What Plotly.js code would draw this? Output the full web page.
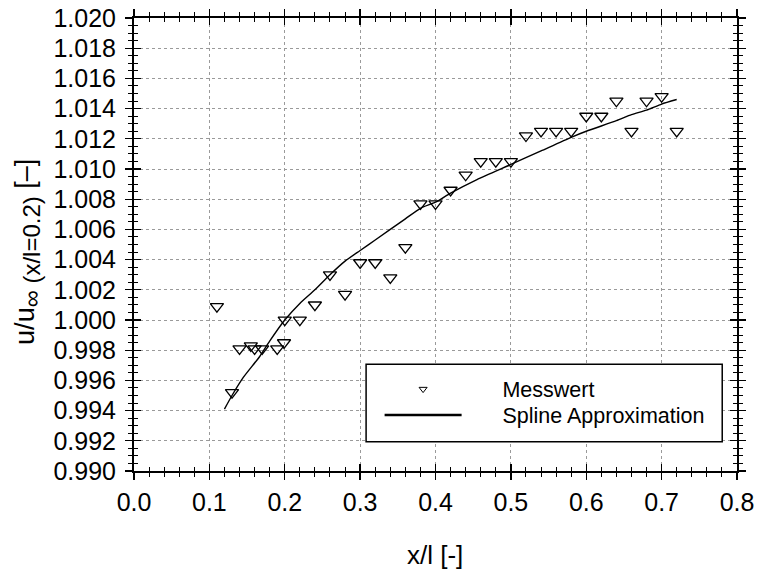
<!DOCTYPE html>
<html>
<head>
<meta charset="utf-8">
<script src="https://cdn.plot.ly/plotly-3.0.1.min.js"></script>
<style>html,body{margin:0;padding:0;background:#fff;}</style>
</head>
<body>
<div id="chart" style="width:757px;height:570px;"></div>
<script>
// Measured velocity ratio along the plate
const messX = [0.11, 0.13, 0.14, 0.155, 0.16, 0.17, 0.19, 0.199, 0.20, 0.22, 0.24, 0.26, 0.28, 0.30, 0.32, 0.34, 0.36, 0.38, 0.40, 0.42, 0.44, 0.46, 0.48, 0.50, 0.52, 0.54, 0.56, 0.58, 0.60, 0.62, 0.64, 0.66, 0.68, 0.70, 0.72];
const messY = [1.0009, 0.9952, 0.9981, 0.9983, 0.9981, 0.9981, 0.9981, 0.9985, 1.0000, 1.0000, 1.0010, 1.0030, 1.0017, 1.0038, 1.0038, 1.0028, 1.0048, 1.0077, 1.0077, 1.0086, 1.0096, 1.0105, 1.0105, 1.0105, 1.0122, 1.0125, 1.0125, 1.0125, 1.0135, 1.0135, 1.0145, 1.0125, 1.0145, 1.0148, 1.0125];

// Spline approximation of the measurements
const splineX = [0.12, 0.13, 0.145, 0.167, 0.18, 0.20, 0.22, 0.24, 0.26, 0.28, 0.30, 0.32, 0.36, 0.38, 0.40, 0.42, 0.455, 0.50, 0.54, 0.58, 0.60, 0.64, 0.66, 0.68, 0.70, 0.72];
const splineY = [0.9941, 0.9950, 0.9962, 0.9976, 0.9986, 1.0000, 1.0011, 1.0020, 1.0030, 1.0039, 1.0046, 1.0053, 1.0067, 1.0074, 1.0078, 1.0084, 1.0093, 1.0103, 1.0112, 1.0121, 1.0125, 1.0132, 1.0136, 1.0139, 1.0143, 1.0146];

const legendNames = ['Messwert', 'Spline Approximation'];
const xTickVals = [0.0, 0.1, 0.2, 0.3, 0.4, 0.5, 0.6, 0.7, 0.8];
const yTickVals = [0.990, 0.992, 0.994, 0.996, 0.998, 1.000, 1.002, 1.004, 1.006, 1.008, 1.010, 1.012, 1.014, 1.016, 1.018, 1.020];
const xRange = [0, 0.8];
const yRange = [0.990, 1.020];

const FONT = 'Liberation Sans, Arial, Helvetica, sans-serif';
const PAD = '\u00a0\u00a0\u00a0\u00a0\u00a0\u00a0';

const traces = [
  {
    x: messX, y: messY, type: 'scatter', mode: 'markers',
    marker: {symbol: 'triangle-down-open', size: 11.5, color: '#000', line: {width: 1.3, color: '#000'}},
    showlegend: false, hoverinfo: 'x+y'
  },
  {
    x: splineX, y: splineY, type: 'scatter', mode: 'lines',
    line: {color: '#000', width: 1.4, shape: 'spline', smoothing: 0.6},
    showlegend: false, hoverinfo: 'x+y'
  },
  // legend entries
  {
    x: [null], y: [null], type: 'scatter', mode: 'markers', name: PAD + legendNames[0],
    legend: 'legend',
    marker: {symbol: 'triangle-down-open', size: 7, color: '#000', line: {width: 1, color: '#000'}}
  },
  {
    x: [null], y: [null], type: 'scatter', mode: 'lines', name: PAD + legendNames[1],
    legend: 'legend2',
    line: {color: '#000', width: 2.5}
  },
  // carrier for the inner tick axes
  {x: [], y: [], xaxis: 'x2', yaxis: 'y2', type: 'scatter', showlegend: false, hoverinfo: 'skip'}
];

const tickCommon = {
  ticks: 'outside', ticklen: 7, tickwidth: 1.3, tickcolor: '#000',
  showline: true, linewidth: 2, linecolor: '#000', mirror: 'ticks',
  zeroline: false, tickfont: {family: FONT, size: 25, color: '#000'},
  showgrid: true, gridcolor: '#9a9a9a', gridwidth: 1, griddash: '3px,3px'
};

const legendCommon = {
  xanchor: 'left', yanchor: 'top',
  bgcolor: 'rgba(0,0,0,0)', borderwidth: 0,
  font: {family: FONT, size: 21.5, color: '#000'},
  itemwidth: 77
};

const layout = {
  width: 757, height: 570,
  margin: {l: 133.5, r: 19.5, t: 17.5, b: 99},
  paper_bgcolor: '#fff', plot_bgcolor: '#fff',
  font: {family: FONT, color: '#000'},
  xaxis: Object.assign({}, tickCommon, {
    range: xRange, tickvals: xTickVals, tickformat: '.1f', ticklabelstandoff: 1,
    minor: {dtick: 0.02, ticks: 'outside', ticklen: 4, tickwidth: 1, tickcolor: '#000', showgrid: false}
  }),
  yaxis: Object.assign({}, tickCommon, {
    range: yRange, tickvals: yTickVals, tickformat: '.3f', ticklabelstandoff: 4,
    minor: {dtick: 0.0005, ticks: 'outside', ticklen: 4, tickwidth: 1, tickcolor: '#000', showgrid: false}
  }),
  xaxis2: {
    overlaying: 'x', anchor: 'y2', range: xRange, tickvals: xTickVals,
    ticks: 'inside', ticklen: 7, tickwidth: 1.3, tickcolor: '#000',
    showline: true, linewidth: 2, linecolor: '#000', mirror: 'ticks',
    showticklabels: false, showgrid: false, zeroline: false,
    minor: {dtick: 0.02, ticks: 'inside', ticklen: 4, tickwidth: 1, tickcolor: '#000', showgrid: false}
  },
  yaxis2: {
    overlaying: 'y', anchor: 'x2', range: yRange, tickvals: yTickVals,
    ticks: 'inside', ticklen: 7, tickwidth: 1.3, tickcolor: '#000',
    showline: true, linewidth: 2, linecolor: '#000', mirror: 'ticks',
    showticklabels: false, showgrid: false, zeroline: false,
    minor: {dtick: 0.0005, ticks: 'inside', ticklen: 4, tickwidth: 1, tickcolor: '#000', showgrid: false}
  },
  showlegend: true,
  legend: Object.assign({}, legendCommon, {x: 0.4073, y: 0.226}),
  legend2: Object.assign({}, legendCommon, {x: 0.4073, y: 0.1687}),
  shapes: [{
    type: 'rect', xref: 'paper', yref: 'paper',
    x0: 0.3849, x1: 0.9755, y0: 0.0646, y1: 0.2359,
    line: {color: '#000', width: 1.5}, fillcolor: '#fff', layer: 'above'
  }],
  annotations: [
    {
      text: 'x/l [-]', xref: 'paper', yref: 'paper', x: 0.4992, y: -0.1852,
      xanchor: 'center', yanchor: 'middle', showarrow: false,
      font: {family: FONT, size: 26, color: '#000'}
    },
    {
      text: 'u/u<sub><span style="font-size:24px">\u221e (x/l=0.2)</span></sub> [\u2013]',
      xref: 'paper', yref: 'paper',
      x: -0.1763, y: 0.483, xanchor: 'center', yanchor: 'middle', textangle: -90,
      showarrow: false, font: {family: FONT, size: 27, color: '#000'}
    }
  ]
};

Plotly.newPlot('chart', traces, layout, {displayModeBar: false, staticPlot: true});
</script>
</body>
</html>
